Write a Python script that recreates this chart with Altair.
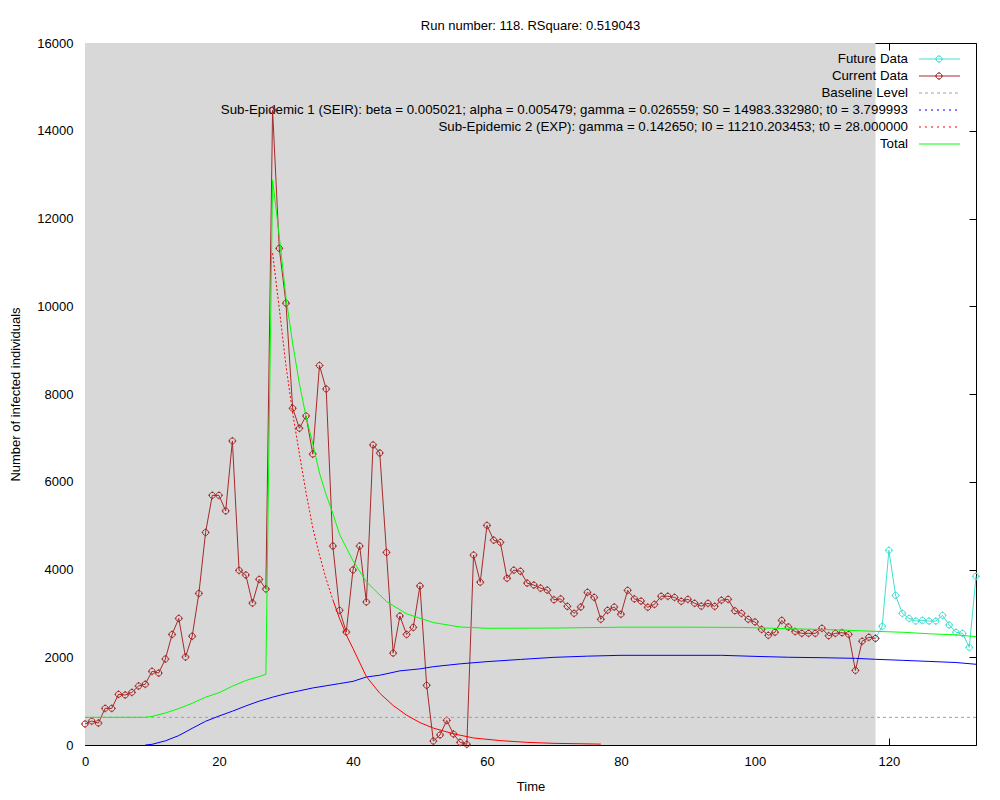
import altair as alt
import pandas as pd

FONT = "Liberation Sans"

# observed incidence, fitted window (day 0..118)
current_days = list(range(0, 119))
current_cases = [
    480, 545, 500, 835, 835, 1155, 1140, 1200, 1345, 1385,
    1680, 1640, 1960, 2520, 2885, 2005, 2480, 3455, 4845, 5690,
    5690, 5335, 6930, 3980, 3875, 3235, 3775, 3555, 14470, 11320,
    10070, 7675, 7220, 7500, 6630, 8650, 8115, 4535, 3070, 2575,
    3990, 4535, 3260, 6840, 6655, 4390, 2095, 2940, 2520, 2680,
    3625, 1360, 90, 230, 560, 250, 60, 15, 4330, 3710,
    5005, 4670, 4620, 3800, 3985, 3960, 3690, 3645, 3575, 3530,
    3310, 3330, 3160, 3000, 3145, 3480, 3365, 2865, 3070, 3145,
    2980, 3525, 3330, 3280, 3140, 3205, 3390, 3390, 3365, 3275,
    3320, 3230, 3165, 3230, 3160, 3300, 3320, 3060, 3000, 2865,
    2805, 2635, 2500, 2570, 2840, 2690, 2585, 2545, 2545, 2545,
    2660, 2490, 2545, 2560, 2520, 1700, 2365, 2455, 2430,
]

# data after the fitted window
future_days = list(range(118, 134))
future_cases = [
    2430, 2705, 4435, 3410, 3000, 2885, 2825, 2840,
    2825, 2825, 2955, 2735, 2570, 2545, 2225, 3845,
]

baseline_level = 630

# sub-epidemic 1 (SEIR)
seir_days = [9, 10, 12, 14, 16, 18, 20, 22, 24, 26, 28, 30, 32, 34, 36, 38, 40,
             42, 44, 47, 50, 52, 56, 60, 65, 70, 75, 80, 90, 95, 100, 105, 110,
             115, 118, 122, 126, 130, 133]
seir_values = [0, 15, 95, 215, 380, 540, 660, 770, 890, 1000, 1090, 1170, 1235,
               1300, 1350, 1400, 1450, 1550, 1590, 1690, 1735, 1785, 1850, 1900,
               1950, 1998, 2025, 2044, 2044, 2044, 2020, 2000, 1990, 1975, 1953,
               1930, 1905, 1880, 1840]

# sub-epidemic 2 (EXP)
exp_days = [28, 29, 30, 31, 32, 33, 34, 35, 36, 37, 38, 39, 40, 42, 44, 46, 48,
            50, 52, 55, 58, 62, 66, 70, 77]
exp_values = [11210, 9950, 8650, 7560, 6640, 5750, 4950, 4330, 3780, 3310, 2880,
              2510, 2200, 1560, 1180, 900, 680, 510, 385, 255, 160, 100, 60, 38, 20]

# total fit
total_days = [0, 9, 10, 12, 14, 16, 18, 20, 22, 24, 26, 27, 28, 29, 30, 31, 32,
              33, 34, 35, 36, 37, 38, 40, 42, 45, 48, 52, 56, 60, 70, 80, 90, 98,
              105, 112, 118, 122, 126, 130, 133]
total_values = [630, 632, 650, 730, 830, 950, 1090, 1190, 1340, 1470, 1560, 1610,
                12880, 11600, 10200, 9150, 8240, 7480, 6870, 6200, 5700, 5280,
                4800, 4200, 3720, 3270, 2990, 2790, 2690, 2660, 2665, 2685, 2685,
                2680, 2650, 2625, 2590, 2570, 2535, 2510, 2470]

x_ticks = [0, 20, 40, 60, 80, 100, 120]
y_ticks = [0, 2000, 4000, 6000, 8000, 10000, 12000, 14000, 16000]

legend_labels = [
    "Future Data",
    "Current Data",
    "Baseline Level",
    "Sub-Epidemic 1 (SEIR): beta = 0.005021; alpha = 0.005479; gamma = 0.026559; S0 = 14983.332980; t0 = 3.799993",
    "Sub-Epidemic 2 (EXP): gamma = 0.142650; I0 = 11210.203453; t0 = 28.000000",
    "Total",
]
legend_colors = ["#40e0d0", "#a52a2a", "#a0a0a0", "#0000ff", "#ff0000", "#00ff00"]
legend_dashes = [None, None, [3, 3], [2, 4], [2, 4], None]

# small octagon with crosshair ticks, like gnuplot's points
MARKER = ("M-0.7,-0.3L-0.3,-0.7L0.3,-0.7L0.7,-0.3L0.7,0.3L0.3,0.7L-0.3,0.7L-0.7,0.3Z"
          "M-1,0L-0.7,0M0.7,0L1,0M0,-1L0,-0.7M0,0.7L0,1")

W, H = 891, 702

x_scale = alt.Scale(domain=[0, 133], nice=False, zero=False)
y_scale = alt.Scale(domain=[0, 16000], nice=False, zero=False)

current_df = pd.DataFrame({"t": current_days, "v": current_cases})
future_df = pd.DataFrame({"t": future_days, "v": future_cases})
seir_df = pd.DataFrame({"t": seir_days, "v": seir_values})
exp_df = pd.DataFrame({"t": exp_days, "v": exp_values})
total_df = pd.DataFrame({"t": total_days, "v": total_values})
base_df = pd.DataFrame({"t": [0], "t2": [133], "v": [baseline_level]})
bg_df = pd.DataFrame({"x0": [current_days[0]], "x1": [current_days[-1]],
                      "y0": [y_ticks[0]], "y1": [y_ticks[-1]]})


def xq(field="t"):
    return alt.X(f"{field}:Q", scale=x_scale, axis=None)


def yq(field="v"):
    return alt.Y(f"{field}:Q", scale=y_scale, axis=None)


# gray fitted-window background, carries the labelled axes
background = alt.Chart(bg_df).mark_rect(color="#d8d8d8").encode(
    x=alt.X("x0:Q", scale=x_scale,
            axis=alt.Axis(values=x_ticks, tickSize=0, labelPadding=10, format="d",
                          labelFlush=False, domain=False, title="Time", titlePadding=12)),
    x2="x1:Q",
    y=alt.Y("y0:Q", scale=y_scale,
            axis=alt.Axis(values=y_ticks, tickSize=0, labelPadding=12, format="d",
                          labelFlush=False, domain=False,
                          title="Number of infected individuals", titlePadding=14)),
    y2="y1:Q",
)

# inward ticks (bottom/left) and mirrored ticks (top/right)
tick_style = dict(tickSize=7, offset=-7, labels=False, domain=False, title="")
ticks_bl = alt.Chart(bg_df).mark_rect(opacity=0).encode(
    x=alt.X("x0:Q", scale=x_scale, axis=alt.Axis(orient="bottom", values=x_ticks, **tick_style)),
    x2="x1:Q",
    y=alt.Y("y0:Q", scale=y_scale, axis=alt.Axis(orient="left", values=y_ticks, **tick_style)),
    y2="y1:Q",
)
ticks_tr = alt.Chart(bg_df).mark_rect(opacity=0).encode(
    x=alt.X("x0:Q", scale=x_scale, axis=alt.Axis(orient="top", values=x_ticks, **tick_style)),
    x2="x1:Q",
    y=alt.Y("y0:Q", scale=y_scale, axis=alt.Axis(orient="right", values=y_ticks, **tick_style)),
    y2="y1:Q",
)

# key, drawn in the top right corner
legend_df = pd.DataFrame({"row": list(range(len(legend_labels))), "label": legend_labels})
legend_base = alt.Chart(legend_df).transform_calculate(
    ly=f"16000 - (16 + 17 * datum.row) * 16000 / {H}"
)
legend_layers = [
    legend_base.mark_text(align="right", baseline="middle", font=FONT,
                          fontSize=13.3, color="black").encode(
        x=alt.value(823), y=yq("ly"), text="label:N")
]
for i, (col, dash) in enumerate(zip(legend_colors, legend_dashes)):
    row = legend_base.transform_filter(f"datum.row == {i}")
    rule_kw = {"color": col, "strokeWidth": 1}
    if dash:
        rule_kw["strokeDash"] = dash
    legend_layers.append(
        row.mark_rule(**rule_kw).encode(x=alt.value(834), x2=alt.value(875), y=yq("ly"))
    )
    if i < 2:
        legend_layers.append(
            row.mark_point(shape=MARKER, size=64, filled=False, color=col,
                           strokeWidth=1, opacity=1).encode(x=alt.value(854), y=yq("ly"))
        )

future_line = alt.Chart(future_df).mark_line(color="#40e0d0", strokeWidth=1).encode(x=xq(), y=yq())
future_pts = alt.Chart(future_df).mark_point(
    shape=MARKER, size=64, filled=False, color="#40e0d0", strokeWidth=1, opacity=1
).encode(x=xq(), y=yq())

current_line = alt.Chart(current_df).mark_line(color="#a52a2a", strokeWidth=1).encode(x=xq(), y=yq())
current_pts = alt.Chart(current_df).mark_point(
    shape=MARKER, size=64, filled=False, color="#a52a2a", strokeWidth=1, opacity=1
).encode(x=xq(), y=yq())

baseline = alt.Chart(base_df).mark_rule(color="#a0a0a0", strokeDash=[3, 3], strokeWidth=1).encode(
    x=xq(), x2="t2:Q", y=yq()
)

seir_line = alt.Chart(seir_df).mark_line(color="#0000ff", strokeWidth=1).encode(x=xq(), y=yq())

exp_dotted = alt.Chart(exp_df).transform_filter("datum.t <= 37").mark_line(
    color="#ff0000", strokeWidth=1, strokeDash=[2, 2]
).encode(x=xq(), y=yq())
exp_solid = alt.Chart(exp_df).transform_filter("datum.t >= 37").mark_line(
    color="#ff0000", strokeWidth=1
).encode(x=xq(), y=yq())

total_line = alt.Chart(total_df).mark_line(color="#00ff00", strokeWidth=1).encode(x=xq(), y=yq())

chart = (
    alt.layer(
        background,
        *legend_layers,
        future_line, future_pts,
        current_line, current_pts,
        baseline, seir_line, exp_dotted, exp_solid, total_line,
        ticks_bl, ticks_tr,
    )
    .resolve_axis(x="independent", y="independent")
    .properties(
        width=W,
        height=H,
        title=alt.TitleParams("Run number: 118. RSquare: 0.519043", font=FONT,
                              fontSize=13, fontWeight="normal", color="black", offset=4),
        padding={"left": 77, "top": 35, "right": 16, "bottom": 47},
        autosize=alt.AutoSizeParams(type="none"),
        background="white",
    )
    .configure_axis(labelFont=FONT, titleFont=FONT, labelFontSize=13, titleFontSize=13,
                    titleFontWeight="normal", labelColor="black", titleColor="black",
                    tickColor="black", grid=False)
    .configure_view(stroke="black", strokeWidth=1)
)

chart.save("out.html", embed_options={"renderer": "svg", "actions": False})
